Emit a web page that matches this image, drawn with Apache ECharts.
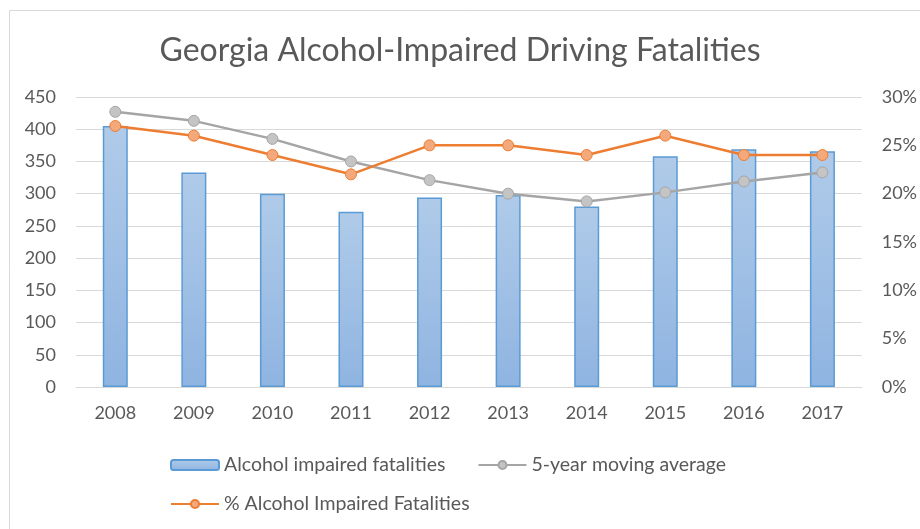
<!DOCTYPE html>
<html>
<head>
<meta charset="utf-8">
<script src="https://cdn.jsdelivr.net/npm/echarts@6/dist/echarts.min.js"></script>
<style>
  html, body { margin: 0; padding: 0; background: #fff; }
  #chart { width: 920px; height: 529px; }
</style>
</head>
<body>
<div id="chart"></div>
<script>
const years = ['2008', '2009', '2010', '2011', '2012', '2013', '2014', '2015', '2016', '2017']
const fatalities = [405, 333, 300, 272, 294, 298, 280, 358, 369, 366]
const movingAvg = [427, 413, 385, 350, 321, 300, 288, 302, 319, 333]
const pctImpaired = [27, 26, 24, 22, 25, 25, 24, 26, 24, 24]

const font = 'Lato, "Open Sans", sans-serif'
const textGray = '#595959'
const legendText = { color: textGray, fontSize: 19.5 }

const myChart = echarts.init(document.getElementById('chart'))
myChart.setOption({
  animation: false,
  textStyle: { fontFamily: font },
  graphic: [{
    type: 'rect',
    shape: { x: 9.5, y: 10.5, width: 930, height: 540 },
    style: { fill: 'none', stroke: '#d9d9d9', lineWidth: 1 }
  }],
  title: {
    text: 'Georgia Alcohol-Impaired Driving Fatalities',
    left: 'center',
    top: 30,
    textStyle: { color: textGray, fontSize: 32, fontWeight: 'normal', fontFamily: font }
  },
  // two legends so the rows sit like the original's
  legend: [
    {
      left: 165,
      top: 450,
      itemWidth: 48,
      itemHeight: 10,
      itemGap: 32,
      textStyle: legendText,
      data: ['Alcohol impaired fatalities', '5-year moving average']
    },
    {
      left: 165,
      top: 489,
      itemWidth: 48,
      itemHeight: 10,
      textStyle: legendText,
      data: ['% Alcohol Impaired Fatalities']
    }
  ],
  grid: { left: 76, right: 58, top: 97, bottom: 142 },
  xAxis: {
    type: 'category',
    data: years,
    axisLine: { lineStyle: { color: '#d9d9d9' } },
    axisTick: { show: false },
    axisLabel: { color: textGray, fontSize: 18, margin: 17 }
  },
  yAxis: [
    {
      type: 'value',
      min: 0, max: 450, interval: 50,
      axisLine: { show: false },
      axisTick: { show: false },
      axisLabel: { color: textGray, fontSize: 18, margin: 20 },
      splitLine: { lineStyle: { color: '#d9d9d9' } }
    },
    {
      type: 'value',
      min: 0, max: 30, interval: 5,
      axisLine: { show: false },
      axisTick: { show: false },
      axisLabel: { color: textGray, fontSize: 18, margin: 20, formatter: '{value}%' },
      splitLine: { show: false }
    }
  ],
  series: [
    {
      name: 'Alcohol impaired fatalities',
      type: 'bar',
      data: fatalities,
      barWidth: 25,
      itemStyle: {
        color: new echarts.graphic.LinearGradient(0, 0, 0, 1, [
          { offset: 0, color: '#b0cbe9' },
          { offset: 1, color: '#8fb4e1' }
        ]),
        borderColor: '#5b9bd5',
        borderWidth: 1.5
      }
    },
    {
      name: '5-year moving average',
      type: 'line',
      data: movingAvg,
      symbol: 'circle',
      symbolSize: 11,
      lineStyle: { color: '#a5a5a5', width: 2.5 },
      itemStyle: { color: '#c4c4c4', borderColor: '#a5a5a5', borderWidth: 1 }
    },
    {
      name: '% Alcohol Impaired Fatalities',
      type: 'line',
      yAxisIndex: 1,
      data: pctImpaired,
      symbol: 'circle',
      symbolSize: 11,
      lineStyle: { color: '#ed7d31', width: 2.5 },
      itemStyle: { color: '#f4a97c', borderColor: '#ed7d31', borderWidth: 1 }
    }
  ]
})
</script>
</body>
</html>
